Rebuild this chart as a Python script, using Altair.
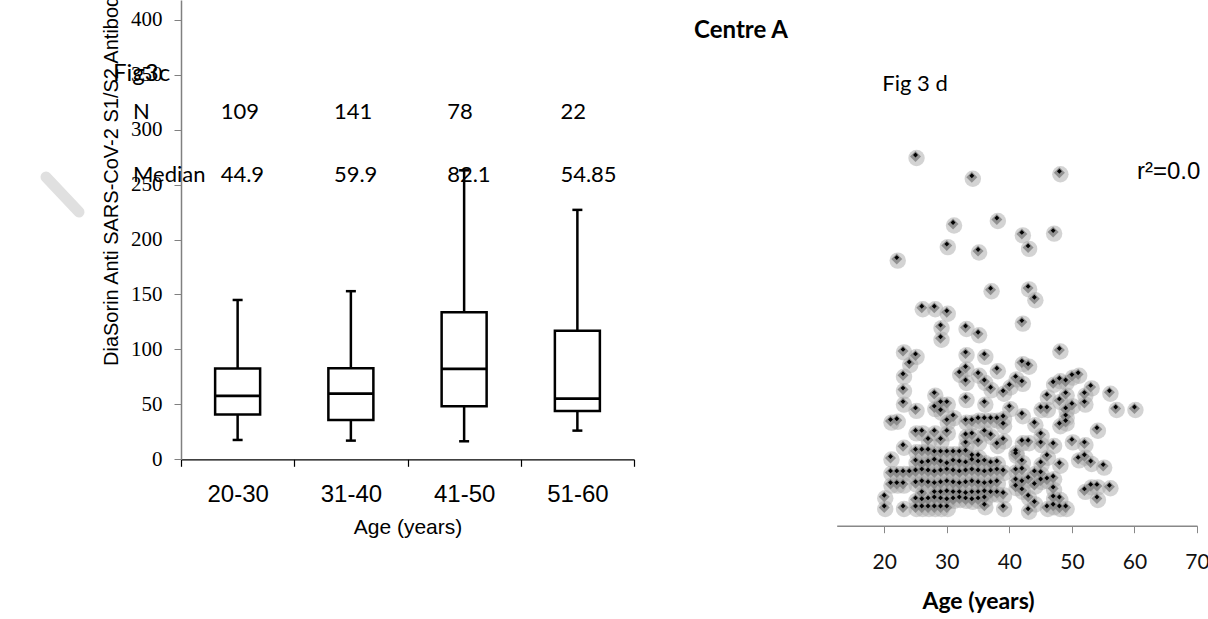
import altair as alt
import pandas as pd

# ---------------- Box plot (Fig 3c) ----------------
box_cats = ["20-30", "31-40", "41-50", "51-60"]
box_min = [17.6, 17.0, 16.4, 26.1]
box_q1 = [40.7, 35.8, 48.3, 44.0]
box_median = [57.7, 59.8, 82.3, 55.3]
box_q3 = [82.6, 82.9, 133.9, 116.9]
box_max = [145, 153, 263, 227]
n_labels = ["109", "141", "78", "22"]
median_labels = ["44.9", "59.9", "82.1", "54.85"]
box_ticks = [0, 50, 100, 150, 200, 250, 300, 350, 400]

# ---------------- Scatter (Fig 3d) ----------------
upper_age = [25, 34, 48, 31, 38, 42, 47, 30, 35, 43, 22,
             37, 43, 44, 26, 28, 30, 29, 33, 42, 35, 29,
             48, 23, 25, 33, 36, 24, 42, 43, 33, 38, 32, 35, 23,
             33, 36, 41, 42, 37, 39, 40, 47, 48, 49, 50, 51, 53, 52, 49, 46, 56, 23, 28, 33,
             48, 36, 40, 29, 30, 23, 28, 52, 50, 57, 60, 45, 46, 49, 25, 29]
upper_val = [400, 377, 382, 325, 330, 314, 316, 301, 295, 299, 286,
             252, 254, 242, 232, 232, 227, 211, 210, 216, 203, 198,
             185, 184, 179, 181, 179, 170, 171, 168, 165, 163, 159, 158, 157,
             150, 150, 154, 149, 142, 138, 145, 148, 152, 150, 156, 158, 144, 136, 136, 134, 138, 141, 136, 131,
             129, 126, 121, 126, 126, 126, 121, 126, 124, 120, 120, 120, 120, 119, 119, 117]
mid_age = [31, 30, 21, 22, 33, 34, 35, 36, 37, 38, 39, 39, 42, 44, 48, 49, 49, 54,
           25, 26, 28, 30, 33, 34, 36, 37, 39, 42, 43, 45, 45, 47, 50, 52, 29, 33, 35, 38, 27]
mid_val = [111, 106, 106, 107, 106, 106, 108, 108, 108, 108, 110, 102, 113, 103, 102, 105, 111, 97,
           94, 94, 94, 94, 90, 91, 94, 90, 85, 83, 83, 91, 81, 80, 84, 81, 85, 81, 83, 80, 85]
low_age = [23, 25, 26, 27, 28, 29, 30, 31, 32, 33, 34, 35, 41, 21,
           25, 26, 27, 28, 29, 30, 31, 32, 33, 34, 35, 36, 37, 38,
           42, 45, 46, 51, 52, 53, 55, 48, 41,
           21, 22, 23, 24, 25, 26, 27, 28, 29, 30, 31, 32, 33, 34, 35, 36, 37, 38, 39,
           41, 42, 44, 45, 46, 47, 43, 42, 41, 45, 44, 47, 41, 42, 43, 44, 47, 48, 52, 53, 54, 56, 54, 46, 47, 48, 49, 43,
           21, 22, 23, 25, 26, 27, 28, 29, 30, 31, 32, 33, 34, 35, 36, 37, 38,
           20, 26, 28, 29, 30, 31, 32, 33, 34, 35, 36, 37, 38, 39,
           25, 26, 27, 28, 29, 30, 31, 32, 33, 34, 35, 36,
           20, 23, 25, 26, 27, 28, 29, 30, 36, 39]
low_val = [78, 73, 73, 73, 71, 71, 71, 71, 71, 72, 67, 67, 72, 65,
           61, 59, 60, 62, 60, 58, 61, 60, 59, 62, 60, 61, 59, 60,
           61, 59, 67, 64, 67, 60, 56, 58, 69,
           49, 49, 49, 49, 50, 51, 50, 49, 50, 51, 50, 49, 50, 51, 50, 49, 50, 51, 50,
           51, 52, 49, 48, 41, 43, 42, 38, 40, 40, 35, 31, 33, 29, 22, 15, 21, 20, 29, 34, 34, 33, 20, 10, 12, 10, 10, 7,
           36, 36, 36, 37, 38, 37, 36, 37, 38, 37, 36, 37, 38, 37, 36, 37, 38,
           22, 26, 26, 26, 27, 26, 26, 25, 26, 26, 27, 26, 26, 25,
           19, 18, 19, 20, 19, 18, 19, 20, 19, 18, 19, 20,
           10, 10, 10, 10, 10, 10, 10, 10, 12, 10]
scatter_ticks = [20, 30, 40, 50, 60, 70]

box_df = pd.DataFrame({
    "group": box_cats, "lo": box_min, "q1": box_q1, "med": box_median,
    "q3": box_q3, "hi": box_max, "n": n_labels, "mlab": median_labels,
})
sc_df = pd.DataFrame({
    "age": upper_age + mid_age + low_age,
    "value": upper_val + mid_val + low_val,
})

SANS = "Liberation Sans"
CAL = "Lato"

x_box = alt.X(
    "group:N", sort=box_cats,
    scale=alt.Scale(domain=box_cats, range=[181, 634], paddingInner=0, paddingOuter=0),
    axis=alt.Axis(
        orient="bottom", offset=-159.7, title="Age (years)", labelAngle=0,
        labelFont=SANS, labelFontSize=24, labelColor="#000", labelPadding=16,
        tickBand="extent", tickSize=7, tickColor="#000", tickWidth=1.2,
        domainColor="#000", domainWidth=1.2,
        titleFont=SANS, titleFontSize=21, titleFontWeight="normal", titleColor="#000",
        titlePadding=10,
    ),
)
y_scale_box = alt.Scale(domain=[0, 418], range=[459.3, 0], nice=False, zero=False)
y_axis_box = alt.Axis(
    orient="left", offset=-181, values=box_ticks, grid=False, title=None,
    labelFont="Liberation Serif", labelFontSize=21, labelColor="#000", labelPadding=12,
    tickSize=7, tickColor="#808080", domainColor="#808080", domainWidth=1.5,
)

bb = alt.Chart(box_df)
whisker = bb.mark_rule(color="black", strokeWidth=2.5).encode(
    x=x_box, y=alt.Y("lo:Q", scale=y_scale_box, axis=y_axis_box), y2="hi:Q")
boxes = bb.mark_bar(size=45, fill="white", stroke="black", strokeWidth=2.5).encode(
    x=x_box, y=alt.Y("q1:Q", scale=y_scale_box, axis=y_axis_box), y2="q3:Q")
medians = bb.mark_tick(color="black", thickness=2.8, size=45, opacity=1).encode(
    x=x_box, y=alt.Y("med:Q", scale=y_scale_box, axis=y_axis_box))
cap_lo = bb.mark_tick(color="black", thickness=2.5, size=10, opacity=1).encode(
    x=x_box, y=alt.Y("lo:Q", scale=y_scale_box, axis=y_axis_box))
cap_hi = bb.mark_tick(color="black", thickness=2.5, size=10, opacity=1).encode(
    x=x_box, y=alt.Y("hi:Q", scale=y_scale_box, axis=y_axis_box))
n_text = bb.mark_text(align="left", baseline="middle", dx=-17, font=CAL, fontSize=22, color="#000").encode(
    x=x_box, y=alt.Y(datum=316, type="quantitative", scale=y_scale_box, axis=y_axis_box), text="n:N")
m_text = bb.mark_text(align="left", baseline="middle", dx=-17, font=CAL, fontSize=22, color="#000").encode(
    x=x_box, y=alt.Y(datum=259, type="quantitative", scale=y_scale_box, axis=y_axis_box), text="mlab:N")

box_layer = alt.layer(whisker, boxes, medians, cap_lo, cap_hi, n_text, m_text)

x_sc = alt.X(
    "age:Q",
    scale=alt.Scale(domain=[12.4, 70], range=[836.7, 1197], nice=False, zero=False),
    axis=alt.Axis(
        orient="bottom", offset=-93.3, values=scatter_ticks, grid=False, labelFlush=False,
        labelFont=CAL, labelFontSize=21, labelColor="#111", labelPadding=19,
        tickSize=7, tickColor="#888", domainColor="#888", domainWidth=1.5,
        title="Age (years)", titleFont=CAL, titleFontSize=23, titleFontWeight="bold",
        titleColor="#000", titleX=978, titlePadding=18,
    ),
)
y_sc = alt.Y("value:Q", scale=alt.Scale(domain=[0, 400], range=[515, 155], nice=False, zero=False), axis=None)

sb = alt.Chart(sc_df)
halo1 = sb.mark_point(shape="circle", filled=True, size=270, color="#a8a8a8", opacity=0.5, yOffset=3, xOffset=1).encode(x=x_sc, y=y_sc)
halo2 = sb.mark_point(shape="diamond", filled=True, size=120, color="#858585", opacity=0.85, yOffset=1.5).encode(x=x_sc, y=y_sc)
dots = sb.mark_point(shape="diamond", filled=True, size=24, color="#000", opacity=1).encode(x=x_sc, y=y_sc)
scatter_layer = alt.layer(halo1, halo2, dots)


def label(text, x, y, font=CAL, size=22, weight="normal", align="center", angle=0):
    return alt.Chart(pd.DataFrame({"t": [text]})).mark_text(
        font=font, fontSize=size, fontWeight=weight, align=align, baseline="middle",
        angle=angle, color="#000",
    ).encode(x=alt.value(x), y=alt.value(y), text="t:N")


watermark = alt.Chart(pd.DataFrame({"k": [0]})).mark_rule(
    color="#e0e0e0", strokeWidth=11, strokeCap="round").encode(
    x=alt.value(46), y=alt.value(177), x2=alt.value(79), y2=alt.value(212))

annots = [
    watermark,
    label("DiaSorin Anti SARS-CoV-2 S1/S2 Antibody (AU/mL)", 112, 366, font=SANS, size=20, align="left", angle=270),
    label("Fig3c", 113, 74, size=24, align="left"),
    label("N", 133, 112, align="left"),
    label("Median", 133, 175, align="left"),
    label("Centre A", 741, 31, size=24, weight="bold"),
    label("Fig 3 d", 915, 84, size=22),
    label("r²=0.0", 1137, 172, font=SANS, size=24, align="left"),
]

chart = alt.layer(box_layer, scatter_layer, *annots).resolve_scale(
    x="independent", y="independent"
).properties(
    width=1208, height=619, autosize=alt.AutoSizeParams(type="none"), padding=0,
    background="white",
).configure_view(stroke=None)

chart.save("out.html", embed_options={"renderer": "svg", "actions": False})
